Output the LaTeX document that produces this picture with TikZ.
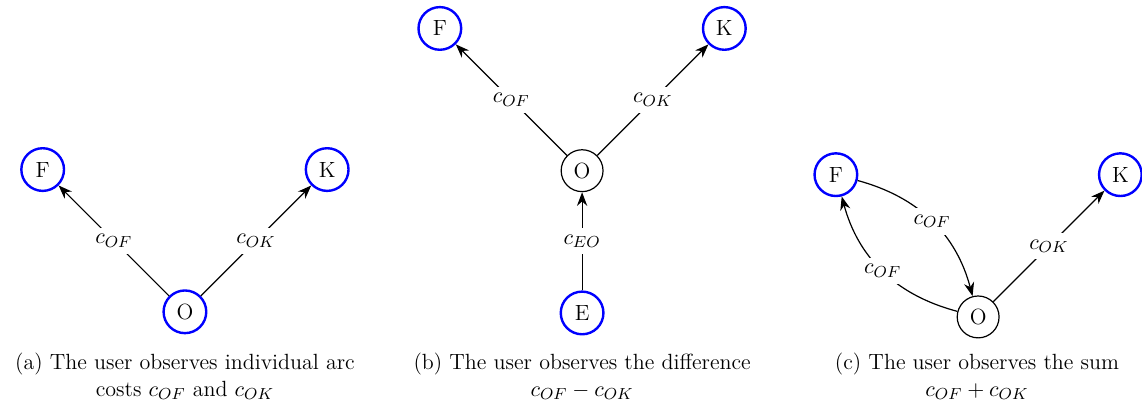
\documentclass[tikz,border=0pt]{standalone}
\usepackage{tikz}
\usepackage{xcolor}
\usetikzlibrary{positioning,arrows.meta}
\definecolor{nodeblue}{RGB}{0,0,255}

\begin{document}
\begin{tikzpicture}[node distance=2.5cm and 2.5cm, on grid,
    every node/.style={font=\fontsize{11}{13.6}\selectfont},
    observed/.style={draw=nodeblue, circle, line width=1.2pt, minimum size=0.75cm},
    hidden/.style={draw, circle, semithick, minimum size=0.64cm},
    arc/.style={-{Stealth[length=2.4mm]}, semithick},
    cost/.style={fill=white, midway},
    caption/.style={align=center}]

  \useasboundingbox (0,0) rectangle (20.07,7.08);

  % (a) individual arc costs
  \node[observed] (aO) at (3.25,1.60) {O};
  \node[observed, above left=of aO] (aF) {F};
  \node[observed, above right=of aO] (aK) {K};
  \draw[arc] (aO) -- node[cost] {$c_{OF}$} (aF);
  \draw[arc] (aO) -- node[cost] {$c_{OK}$} (aK);
  \node[caption] (acap) at (3.25,0.47) {(a) The user observes individual arc\\costs $c_{OF}$ and $c_{OK}$};

  % (b) difference
  \node[hidden] (bO) at (10.23,4.08) {O};
  \node[observed, above left=of bO] (bF) {F};
  \node[observed, above right=of bO] (bK) {K};
  \node[observed, below=of bO] (bE) {E};
  \draw[arc] (bO) -- node[cost] {$c_{OF}$} (bF);
  \draw[arc] (bO) -- node[cost] {$c_{OK}$} (bK);
  \draw[arc] (bE) -- node[cost] {$c_{EO}$} (bO);
  \node[caption] (bcap) at (10.23,0.47) {(b) The user observes the difference\\$c_{OF}-c_{OK}$};

  % (c) sum
  \node[hidden] (cO) at (17.19,1.51) {O};
  \node[observed, above left=of cO] (cF) {F};
  \node[observed, above right=of cO] (cK) {K};
  \draw[arc] (cF) to[bend left=30] node[cost] {$c_{OF}$} (cO);
  \draw[arc] (cO) to[bend left=30] node[cost] {$c_{OF}$} (cF);
  \draw[arc] (cO) -- node[cost] {$c_{OK}$} (cK);
  \node[caption] (ccap) at (17.17,0.47) {(c) The user observes the sum\\$c_{OF}+c_{OK}$};
\end{tikzpicture}
\end{document}
